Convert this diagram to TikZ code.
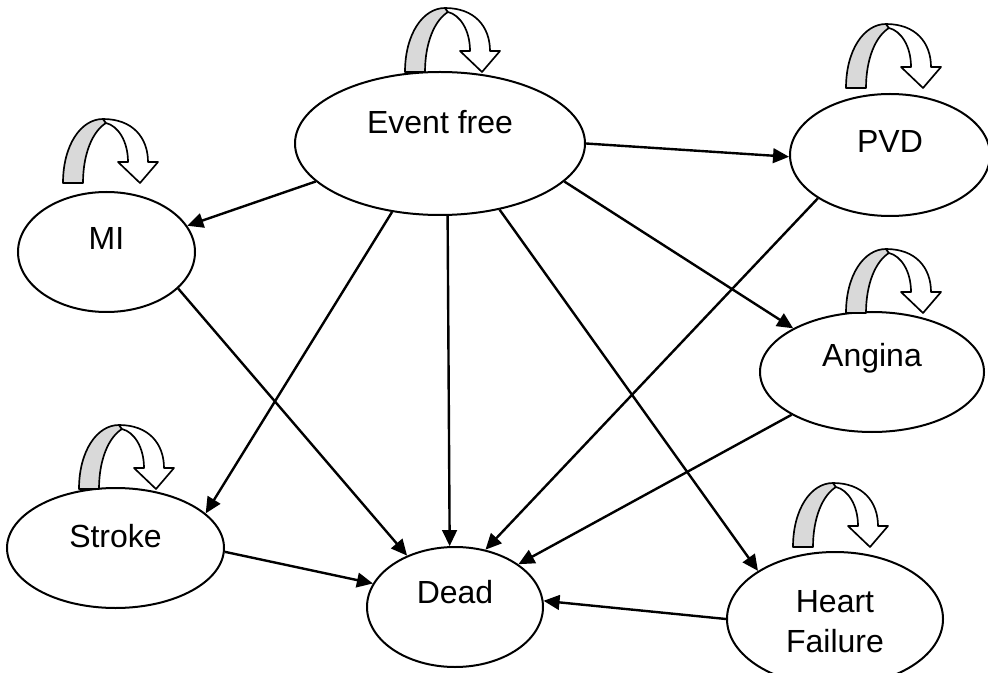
\documentclass[tikz,border=0pt]{standalone}
\usepackage{fontspec}
\setmainfont{Liberation Sans}
\usetikzlibrary{shapes.geometric,arrows.meta}
\tikzset{
  state/.style={ellipse, draw, line width=1.5pt, fill=white, inner sep=0pt},
  lbl/.style={font=\fontsize{24}{30}\selectfont, align=center},
  conn/.style={line width=1.8pt, -{Triangle[length=12pt,width=11pt]}},
  loopline/.style={line width=1.25pt, line join=round},
  selfloop/.pic={
    \filldraw[loopline, fill=black!15] (0,0) .. controls (0,-38) and (18,-64) .. (40,-64)
      -- (43,-60) .. controls (30,-52) and (20,-30) .. (20,0) -- cycle;
    \filldraw[loopline, fill=white] (40,-64) .. controls (70,-64) and (85,-45) .. (85,-21)
      -- (95,-21) -- (77,0) -- (55,-21) -- (65,-21)
      .. controls (65,-42) and (55,-57) .. (43,-60) -- cycle;
  }
}
\begin{document}
\begin{tikzpicture}[x=0.75pt, y=-0.75pt]
\useasboundingbox (0,0) rectangle (988,673);
\clip (0,0) rectangle (988,673);
\fill[white] (0,0) rectangle (988,673);

\node[state, minimum width=217.5pt, minimum height=107.25pt,
  label={[lbl, yshift=16pt]center:Event free}] (ef) at (440,143.5) {};
\node[state, minimum width=132.75pt, minimum height=90pt,
  label={[lbl, yshift=10.5pt]center:MI}] (mi) at (106.5,252) {};
\node[state, minimum width=162.75pt, minimum height=90pt,
  label={[lbl, yshift=9pt]center:Stroke}] (stroke) at (115.5,548) {};
\node[state, minimum width=150pt, minimum height=91.5pt,
  label={[lbl, yshift=10pt]center:PVD}] (pvd) at (890,155) {};
\node[state, minimum width=168pt, minimum height=90pt,
  label={[lbl, yshift=10.5pt]center:Angina}] (angina) at (872,372) {};
\node[state, minimum width=132pt, minimum height=90pt,
  label={[lbl, yshift=11pt]center:Dead}] (dead) at (455,607) {};
\node[state, minimum width=162pt, minimum height=100.5pt,
  label={[lbl, yshift=-2pt]center:Heart\\Failure}] (hf) at (835,619) {};

\draw[conn] (ef.197) -- (mi.18);
\draw[conn] (ef.0) -- (pvd.181);
\draw[conn] (ef.235) -- (stroke.21.5);
\draw[conn] (ef.276) -- (dead.95);
\draw[conn] (ef.312) -- (hf.148);
\draw[conn] (ef.343) -- (angina.151);
\draw[conn] (mi.333) -- (dead.133);
\draw[conn] (pvd.211.6) -- (dead.62);
\draw[conn] (angina.208.3) -- (dead.34);
\draw[conn] (stroke.358) -- (dead.164);
\draw[conn] (hf.180.5) -- (dead.4.5);

\pic (efloop) at (405,72) {selfloop};
\pic (miloop) at (63,183) {selfloop};
\pic (pvdloop) at (846,88) {selfloop};
\pic (angloop) at (846,313) {selfloop};
\pic (strloop) at (79,489) {selfloop};
\pic (hfloop) at (793,547) {selfloop};
\end{tikzpicture}
\end{document}
